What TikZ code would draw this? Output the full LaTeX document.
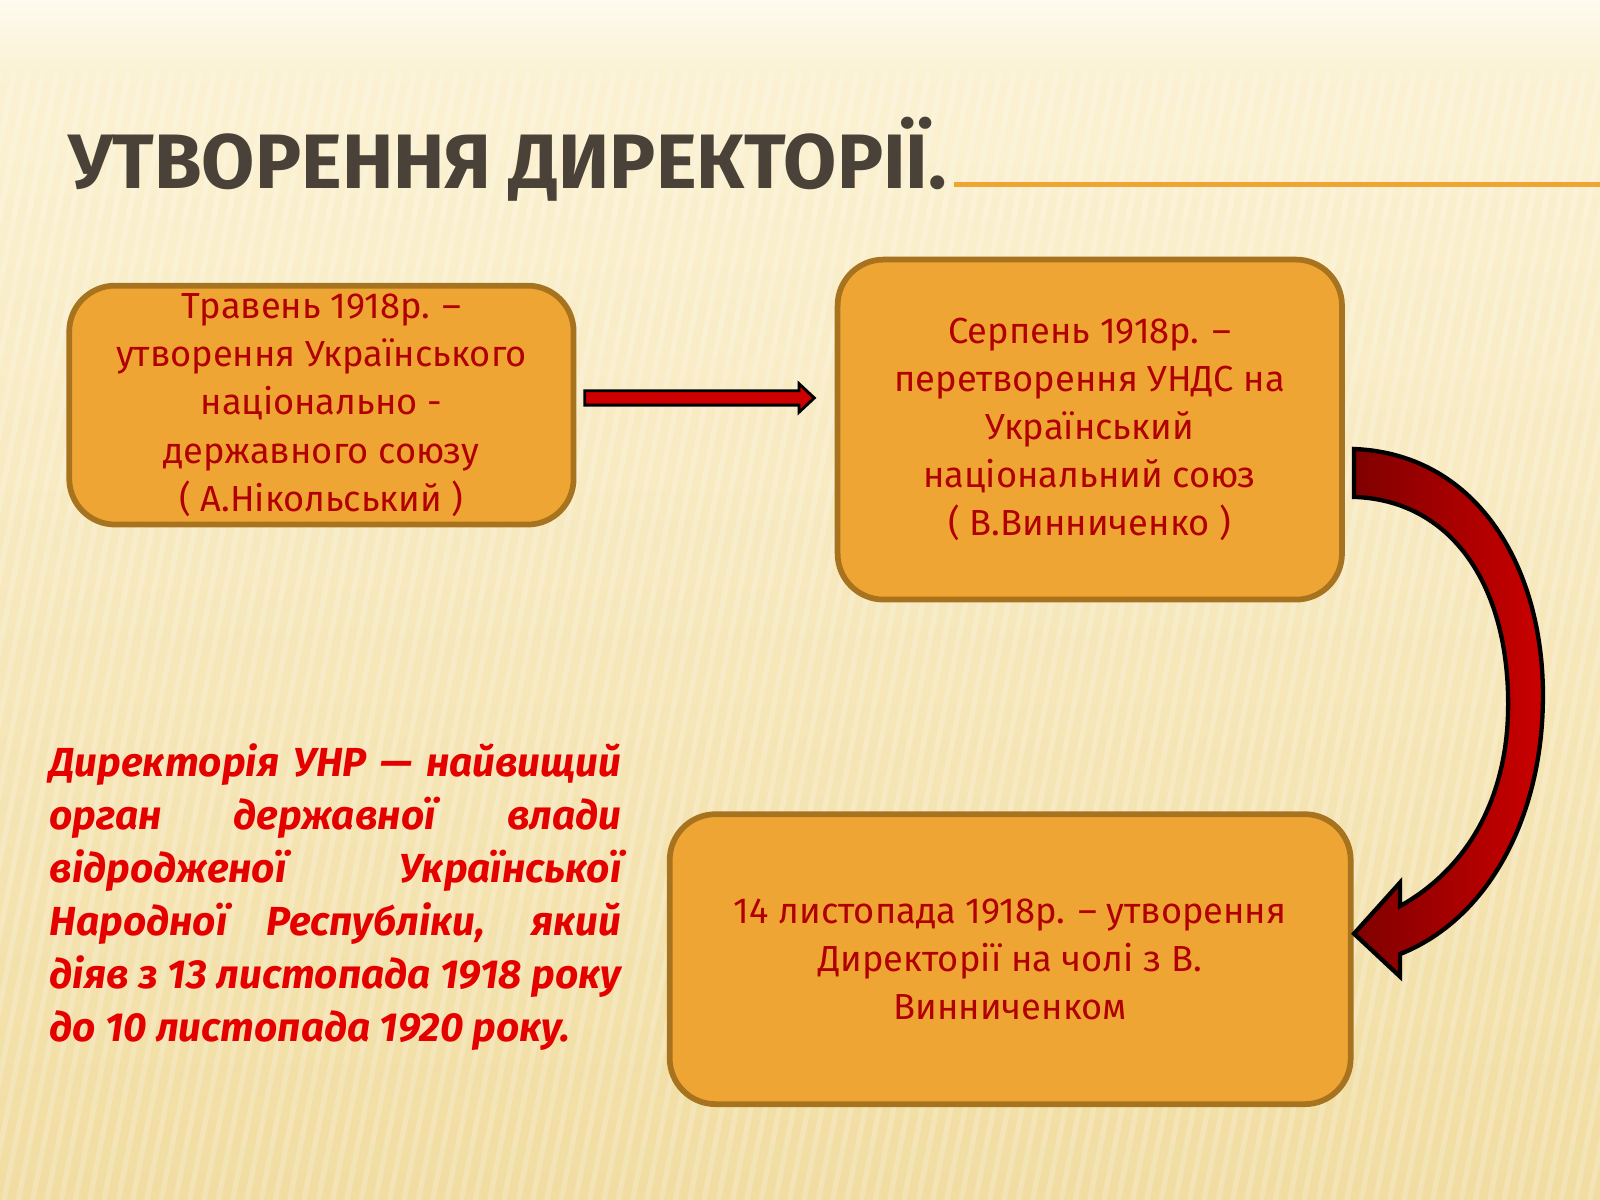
\documentclass[tikz,border=0pt]{standalone}
\usepackage{fontspec}
\setmainfont{Fira Sans}
\usetikzlibrary{shadings}
\definecolor{boxfill}{HTML}{EFA533}
\definecolor{boxedge}{HTML}{A8731F}
\definecolor{txtred}{HTML}{B00000}
\definecolor{titlecol}{HTML}{4A4238}
\definecolor{bgtop}{HTML}{FCF3D6}
\definecolor{bgbot}{HTML}{F1DDA2}
\tikzset{
 stagebox/.style={draw=boxedge,line width=1.6pt,fill=boxfill,rounded corners=0.45cm,align=center,text=txtred,font=\fontsize{10.1}{13.4}\selectfont,inner sep=0pt},
}
\begin{document}
\begin{tikzpicture}[x=0.01cm,y=-0.01cm]
\useasboundingbox (0,0) rectangle (1568,1176);
\shade[top color=bgtop, bottom color=bgbot] (0,0) rectangle (1568,1176);
\shade[top color=white,bottom color=bgtop,opacity=0.6] (0,0) rectangle (1568,70);
\foreach \i in {0,14,...,1800}{\draw[white,opacity=0.2,line width=1.5pt] (\i,70) -- (\i-220,1176);}
% title
\node[anchor=base west,text=titlecol,font=\fontsize{21.5}{21.5}\selectfont\bfseries,inner sep=0] (title) at (66,185) {УТВОРЕННЯ ДИРЕКТОРІЇ.};
\draw[color=boxfill,line width=1.5pt] (935,181) -- (1568,181);
% boxes
\node[stagebox,minimum width=4.94cm,minimum height=2.34cm] (b1) at (315,397) {Травень 1918р. –\\утворення Українського\\національно -\\державного союзу\\( А.Нікольський )};
\node[stagebox,minimum width=4.94cm,minimum height=3.33cm] (b2) at (1068,421) {Серпень 1918р. –\\перетворення УНДС на\\Український\\національний союз\\( В.Винниченко )};
\node[stagebox,minimum width=6.67cm,minimum height=2.84cm] (b3) at (990,940) {14 листопада 1918р. – утворення\\Директорії на чолі з В.\\Винниченком};
% straight arrow
\draw[black,line width=0.8pt,fill=red!80!black] (573,383) -- (783,383) -- (783,376) -- (798,390) -- (783,404) -- (783,397) -- (573,397) -- cycle;
% curved arrow
\shade[left color=red!50!black,right color=red!80!black,draw=black,line width=1.2pt]
 (1327,440) .. controls (1450,445) and (1515,560) .. (1512,690) .. controls (1510,800) and (1460,900) .. (1372,935) -- (1372,957) -- (1327,915) -- (1372,865) -- (1372,888) .. controls (1440,850) and (1478,780) .. (1478,690) .. controls (1478,570) and (1420,490) .. (1327,487) -- cycle;
% side text
\node[anchor=north west,text width=5.6cm,align=justify,text=red!90!black,font=\fontsize{11.3}{14.8}\selectfont\bfseries\itshape,inner sep=0] (def) at (48,728) {Директорія УНР — найвищий орган державної влади відродженої Української Народної Республіки, який діяв з 13 листопада 1918 року до 10 листопада 1920 року.};
\end{tikzpicture}
\end{document}
